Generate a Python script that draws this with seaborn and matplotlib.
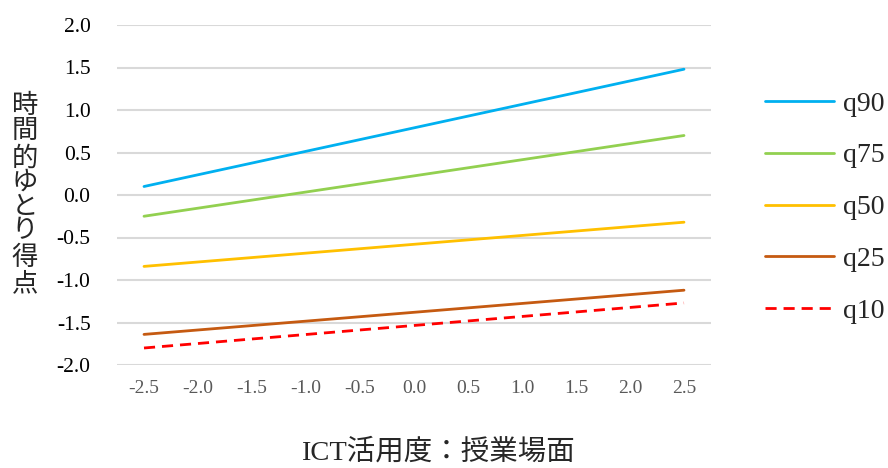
import pandas as pd
import numpy as np
import matplotlib.pyplot as plt
import seaborn as sns

# ICT utilisation (lesson scenes), endpoints of each quantile line
ict = [-2.5, 2.5]
q90 = [0.10, 1.48]
q75 = [-0.25, 0.70]
q50 = [-0.84, -0.32]
q25 = [-1.64, -1.12]
q10 = [-1.80, -1.27]

series = ['q90', 'q75', 'q50', 'q25', 'q10']
colors = ['#00b0f0', '#92d050', '#ffc000', '#c55a11', '#ff0000']
xticks = [-2.5, -2.0, -1.5, -1.0, -0.5, 0.0, 0.5, 1.0, 1.5, 2.0, 2.5]
yticks = [-2.0, -1.5, -1.0, -0.5, 0.0, 0.5, 1.0, 1.5, 2.0]

df = pd.DataFrame({
    'x': ict * 5,
    'y': q90 + q75 + q50 + q25 + q10,
    'q': [s for s in series for _ in ict],
})

sns.set_style('white')
plt.rcParams['font.family'] = ['Liberation Serif', 'Noto Sans CJK JP', 'DejaVu Sans']

fig = plt.figure(figsize=(8.88, 4.68), dpi=100)
ax = fig.add_axes([117 / 888, 1 - 365 / 468, (711 - 117) / 888, (365 - 25) / 468])

sns.lineplot(data=df, x='x', y='y', hue='q', style='q', hue_order=series,
             style_order=series, palette=dict(zip(series, colors)),
             dashes={'q90': '', 'q75': '', 'q50': '', 'q25': '', 'q10': (4, 2.5)},
             linewidth=2, ax=ax, legend=True)

ax.set_xlim(-2.75, 2.75)
ax.set_ylim(-2.0, 2.0)
ax.set_xticks(xticks)
ax.set_xticklabels([f'{t:.1f}' for t in xticks], color='#595959', fontsize=14)
ax.set_yticks(yticks)
ax.set_yticklabels([f'{t:.1f}' for t in yticks], color='black', fontsize=15.5)
ax.tick_params(axis='both', length=0)
ax.tick_params(axis='x', pad=11)
ax.tick_params(axis='y', pad=19)
ax.yaxis.grid(True, color='#d9d9d9', linewidth=1.5)
ax.xaxis.grid(False)
for sp in ax.spines.values():
    sp.set_visible(False)

ax.set_xlabel('')
ax.set_ylabel('')
fig.text(438 / 888, 1 - 452 / 468, 'ICT活用度：授業場面', ha='center', va='center', fontsize=20.5)
fig.text(25 / 888, 1 - 195 / 468, '\n'.join('時間的ゆとり得点'), ha='center', va='center',
         fontsize=19, linespacing=1.12)

handles, labels = ax.get_legend_handles_labels()
ax.get_legend().remove()
fig.legend(handles, labels, loc='center left', bbox_to_anchor=(765 / 888, 1 - 207.5 / 468),
           frameon=False, fontsize=20, handlelength=2.5, handletextpad=0.3,
           labelspacing=0.95, borderpad=0, borderaxespad=0)

fig.savefig('out.png', dpi=100)
